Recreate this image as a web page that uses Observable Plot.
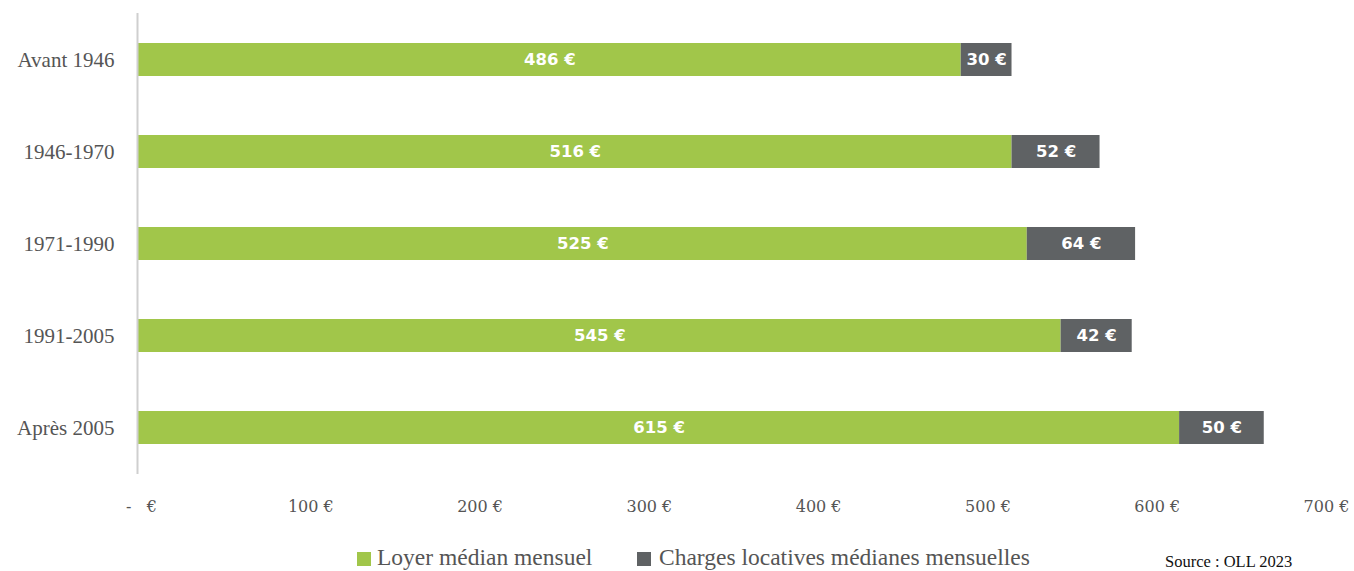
<!DOCTYPE html>
<html>
<head>
<meta charset="utf-8">
<script src="https://cdn.jsdelivr.net/npm/d3@7"></script>
<script src="https://cdn.jsdelivr.net/npm/@observablehq/plot@0.6"></script>
<style>
  html, body { margin: 0; padding: 0; background: #fff; }
  #wrap { position: relative; width: 1354px; height: 571px; overflow: hidden; }
  #legend { position: absolute; left: 0; top: 530px; width: 1354px; height: 41px;
    font-family: "Liberation Serif", "DejaVu Serif", serif; font-size: 23.5px; color: #555; }
  .sw { position: absolute; width: 14px; height: 14px; top: 22px; }
  .lt { position: absolute; top: 15px; line-height: 24px; white-space: nowrap; }
  #source { position: absolute; left: 1165px; top: 23px; font-size: 16.5px; line-height: 17px; color: #111; white-space: nowrap; }
</style>
</head>
<body>
<div id="wrap">
  <div id="chart"></div>
  <div id="legend">
    <div class="sw" style="left:357px;background:#a1c64a"></div>
    <div class="lt" style="left:377px">Loyer médian mensuel</div>
    <div class="sw" style="left:637px;background:#5f6264"></div>
    <div class="lt" style="left:659px">Charges locatives médianes mensuelles</div>
    <div id="source">Source : OLL 2023</div>
  </div>
</div>
<script>
const periods = ["Avant 1946", "1946-1970", "1971-1990", "1991-2005", "Après 2005"];
const loyer = [486, 516, 525, 545, 615];
const charges = [30, 52, 64, 42, 50];
const seriesNames = ["Loyer médian mensuel", "Charges locatives médianes mensuelles"];
const seriesColors = ["#a1c64a", "#5f6264"];
const xTicks = [0, 100, 200, 300, 400, 500, 600, 700];

const data = [];
periods.forEach((p, i) => {
  data.push({period: p, series: seriesNames[0], value: loyer[i]});
  data.push({period: p, series: seriesNames[1], value: charges[i]});
});

const chart = Plot.plot({
  width: 1354,
  height: 530,
  marginLeft: 138,
  marginRight: 31,
  marginTop: 13,
  marginBottom: 56,
  style: {background: "#fff"},
  x: {domain: [0, 700], ticks: xTicks},
  y: {domain: periods, paddingInner: 0.64, paddingOuter: 0.32},
  color: {domain: seriesNames, range: seriesColors},
  marks: [
    Plot.barX(data, Plot.stackX({x: "value", y: "period", fill: "series", order: null})),
    Plot.text(data, Plot.stackX({
      x: "value", y: "period", order: null,
      text: d => `${d.value}\u00a0€`,
      fill: "#fff", fontWeight: "bold", fontSize: 16.5,
      fontFamily: "'DejaVu Sans', sans-serif"
    })),
    Plot.ruleX([0], {stroke: "#cfcfcf", strokeWidth: 2, dx: -1}),
    Plot.axisX({
      ticks: xTicks, tickSize: 0, tickPadding: 26, dx: 3,
      tickFormat: d => d === 0 ? "-\u00a0\u00a0\u00a0€" : `${d}\u00a0€`,
      fontSize: 16, fill: "#555", fontFamily: "'DejaVu Serif', serif",
      label: null
    }),
    Plot.axisY({
      tickSize: 0, tickPadding: 24, fontSize: 21, fill: "#555",
      fontFamily: "'Liberation Serif', 'DejaVu Serif', serif", label: null
    })
  ]
});
document.getElementById("chart").appendChild(chart);
</script>
</body>
</html>
